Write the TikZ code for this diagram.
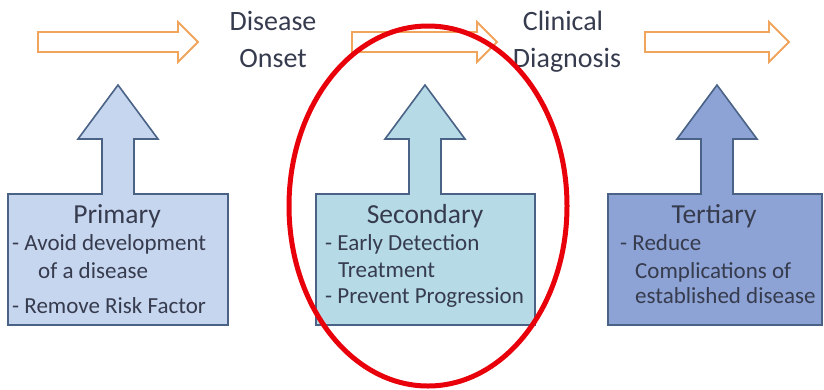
\documentclass[tikz,border=0pt]{standalone}
\usepackage{fontspec}
\setmainfont{Carlito}
\definecolor{txt}{HTML}{363B4E}
\definecolor{edge}{HTML}{4A6285}
\definecolor{flow}{HTML}{F0A45C}
\definecolor{primfill}{HTML}{C7D6EF}
\definecolor{secfill}{HTML}{B6DBE7}
\definecolor{terfill}{HTML}{8DA3D5}
\definecolor{ringred}{HTML}{E8000B}
\begin{document}
\begin{tikzpicture}[x=1pt,y=-1pt,
  flowarrow/.style={draw=flow,line width=1.8pt,fill=white,line join=miter},
  levelbox/.style={draw=edge,line width=1.6pt,line join=miter},
  heading/.style={text=txt,font=\fontsize{28}{30}\selectfont,inner sep=0pt,anchor=base},
  title/.style={text=txt,font=\fontsize{27.5}{30}\selectfont,inner sep=0pt,anchor=base},
  item/.style={text=txt,font=\fontsize{23}{26}\selectfont,inner sep=0pt,anchor=base west}]
\useasboundingbox (0,0) rectangle (824,389);

% timeline arrows (x0 = tail, xh = head base, xt = tip)
\foreach \xa/\xh/\xt in {38/178/198, 352/477/497, 645/769/789}
  \draw[flowarrow] (\xa,32) -- (\xh,32) -- (\xh,22) -- (\xt,42) -- (\xh,62)
                   -- (\xh,52) -- (\xa,52) -- cycle;

% milestones
\node[heading] (dis1) at (273,30) {Disease};
\node[heading] (dis2) at (273,67) {Onset};
\node[heading] (cli1) at (563,30) {Clinical};
\node[heading] (cli2) at (567,67) {Diagnosis};

% prevention boxes with upward block arrows
% args: box left, box right, tip x, fill
\foreach \l/\r/\c/\f in {8/228/118/primfill, 316/535/425/secfill, 608/822/717/terfill}
  \draw[levelbox,fill=\f] (\l,325) -- (\l,194) -- (\c-16,194) -- (\c-16,139)
      -- (\c-40,139) -- (\c,85) -- (\c+40,139) -- (\c+16,139) -- (\c+16,194)
      -- (\r,194) -- (\r,325) -- cycle;

% primary
\node[title] (pt) at (117,223) {Primary};
\node[item] (p1) at (12,250) {- Avoid development};
\node[item] (p2) at (38,278) {of a disease};
\node[item] (p3) at (12,313) {- Remove Risk Factor};

% secondary
\node[title] (st) at (425,223) {Secondary};
\node[item] (s1) at (325,250) {- Early Detection};
\node[item] (s2) at (338,277) {Treatment};
\node[item] (s3) at (325,303) {- Prevent Progression};

% tertiary
\node[title] (tt) at (714,223) {Tertiary};
\node[item] (t1) at (620,250) {- Reduce};
\node[item] (t2) at (635,278) {Complications of};
\node[item] (t3) at (635,303) {established disease};

% highlight ring
\draw[ringred,line width=5pt] (428,206) ellipse [x radius=139, y radius=180];
\end{tikzpicture}
\end{document}
